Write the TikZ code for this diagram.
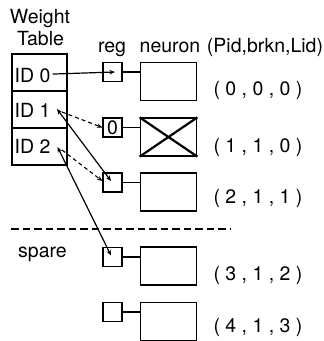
\documentclass[tikz,border=0pt]{standalone}
\usepackage{fontspec}
\setmainfont{TeX Gyre Heros}
\usetikzlibrary{arrows.meta,calc}
\begin{document}
\begin{tikzpicture}[x=1pt,y=-1pt,
  every node/.style={font=\fontsize{19.5}{22}\selectfont},
  lbl/.style={anchor=base,inner sep=0pt},
  row/.style={draw,line width=1.3pt,minimum width=55pt,minimum height=37pt,inner sep=0pt},
  regbox/.style={draw,line width=1.3pt,minimum width=19pt,minimum height=19pt,inner sep=0pt},
  neubox/.style={draw,line width=1.3pt,minimum width=56.5pt,minimum height=38pt,inner sep=0pt},
  link/.style={line width=1.2pt},
  arrtip/.style={-{Stealth[length=5.5pt,width=4.5pt]}},
  dbltip/.style={{Stealth[length=5.5pt,width=4.5pt]}-{Stealth[length=5.5pt,width=4.5pt]}},
  dashln/.style={line width=1.1pt,dash pattern=on 4pt off 3pt},
]
\useasboundingbox (0,0) rectangle (324,341);
% title
\node[lbl] (wt) at (40,23) {Weight};
\node[lbl] (tb) at (40.5,45) {Table};
\node[lbl] (hreg) at (112,52) {reg};
\node[lbl] (hneu) at (170,52) {neuron};
\node[lbl] (hpid) at (265,52) {(Pid,brkn,Lid)};
% weight table
\node[row] (row0) at (39.5,72.5) {};
\node[row] (row1) at (39.5,109.5) {};
\node[row] (row2) at (39.5,146.5) {};
\node[lbl,anchor=base west] (t0) at (14.5,82) {ID 0};
\node[lbl,anchor=base west] (t1) at (14.5,117) {ID 1};
\node[lbl,anchor=base west] (t2) at (14.5,153) {ID 2};
% registers and neurons
\node[regbox] (reg0) at (112.5,72) {};
\node[neubox] (neu0) at (168.5,81.5) {};
\node[regbox] (reg1) at (112.5,127.5) {0};
\node[neubox] (neu1) at (168.5,137) {};
\node[regbox] (reg2) at (112.5,182.5) {};
\node[neubox] (neu2) at (168.5,192) {};
\node[regbox] (reg3) at (112.5,257) {};
\node[neubox] (neu3) at (168.5,266) {};
\node[regbox] (reg4) at (112.5,312) {};
\node[neubox] (neu4) at (168.5,321.5) {};
\draw[line width=2.2pt] (neu1.north west) -- (neu1.south east)
  (neu1.south west) -- (neu1.north east);
\foreach \i in {0,...,4}{
  \draw[link] (reg\i.east) -- (reg\i.east -| neu\i.west);
}
% labels
\node[lbl] (l0) at (258,95) {( 0 , 0 , 0 )};
\node[lbl] (l1) at (258,152) {( 1 , 1 , 0 )};
\node[lbl] (l2) at (258,203) {( 2 , 1 , 1 )};
\node[lbl] (l3) at (258,280) {( 3 , 1 , 2 )};
\node[lbl] (l4) at (258,332) {( 4 , 1 , 3 )};
% spare
\coordinate (sepL) at (11,229);
\coordinate (sepR) at (231,229);
\draw[line width=1.1pt,dash pattern=on 7.5pt off 4pt] (sepL) -- (sepR);
\node[lbl] (sp) at (42.5,257) {spare};
% connectors
\coordinate (a1) at (57,109);
\coordinate (a2) at (57.5,147);
\coordinate (d1) at (62,112);
\coordinate (d2) at (62,150);
\draw[link,arrtip] ($(t0.east)+(2,-1)$) -- ($(reg0.center)+(2.5,0)$);
\draw[dashln,arrtip] (d1) -- (reg1.west);
\draw[dashln,arrtip] (d2) -- ($(reg2.west)+(0,-1.5)$);
\draw[link,dbltip] (a1) -- ($(reg2.center)+(-1.5,-1.5)$);
\draw[link,dbltip] (a2) -- ($(reg3.center)+(-1.5,-1.5)$);
\end{tikzpicture}
\end{document}
